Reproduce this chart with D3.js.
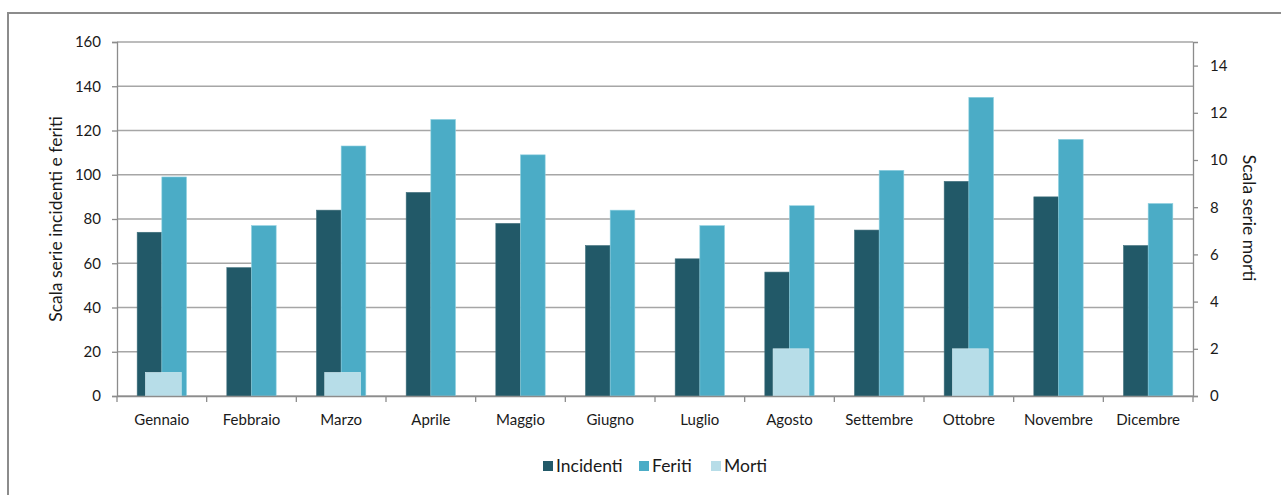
<!DOCTYPE html>
<html><head><meta charset="utf-8">
<script src="https://cdn.jsdelivr.net/npm/d3@7"></script>
<style>body{margin:0;background:#fff}svg{display:block}text{font-family:Lato,"Open Sans",sans-serif;fill:#1a1a1a}</style>
</head><body>
<script>
const months=["Gennaio","Febbraio","Marzo","Aprile","Maggio","Giugno","Luglio","Agosto","Settembre","Ottobre","Novembre","Dicembre"];
const incidenti=[74,58,84,92,78,68,62,56,75,97,90,68];
const feriti=[99,77,113,125,109,84,77,86,102,135,116,87];
const morti=[1,0,1,0,0,0,0,2,0,2,0,0];
const leftTicks=[0,20,40,60,80,100,120,140,160];
const rightTicks=[0,2,4,6,8,10,12,14];
const seriesNames=["Incidenti","Feriti","Morti"];
const colors=["#225968","#4BACC6","#B7DDE8"];

const W=1281,H=495;
const svg=d3.select("body").append("svg").attr("width",W).attr("height",H);
svg.append("rect").attr("x",8).attr("y",13).attr("width",1300).attr("height",520).attr("fill","none").attr("stroke","#8c8c8c").attr("stroke-width",2);

const L=117,R=1193,T=42,B=396;
const x=d3.scaleBand().domain(months).range([L,R]);
const yL=d3.scaleLinear().domain([0,160]).range([B,T]);
const yR=d3.scaleLinear().domain([0,15]).range([B,T]);

// gridlines
svg.append("g").selectAll("line").data(leftTicks).join("line")
 .attr("x1",L).attr("x2",R).attr("y1",d=>yL(d)).attr("y2",d=>yL(d))
 .attr("stroke","#a6a6a6").attr("stroke-width",1.3);

const bw=x.bandwidth();
const gw=bw*0.55, sw=gw/2;
const g=svg.append("g");
months.forEach((m,i)=>{
  const cx=x(m)+bw/2;
  g.append("rect").attr("x",cx-gw/2).attr("y",yL(incidenti[i])).attr("width",sw).attr("height",B-yL(incidenti[i])).attr("fill",colors[0]).attr("stroke","#3e6e7b").attr("stroke-width",0.6);
  g.append("rect").attr("x",cx).attr("y",yL(feriti[i])).attr("width",sw).attr("height",B-yL(feriti[i])).attr("fill",colors[1]).attr("stroke","#8fd0e0").attr("stroke-width",0.6);
});
const mw=bw*0.4;
months.forEach((m,i)=>{
  if(!morti[i])return;
  const cx=x(m)+bw/2+1.5;
  g.append("rect").attr("x",cx-mw/2).attr("y",yR(morti[i])).attr("width",mw).attr("height",B-yR(morti[i])).attr("fill",colors[2]).attr("stroke","#d4ecf2").attr("stroke-width",0.6);
});

// axes
const axL=svg.append("g").attr("transform",`translate(${L},0)`).call(d3.axisLeft(yL).tickValues(leftTicks).tickSize(5).tickPadding(11));
const axR=svg.append("g").attr("transform",`translate(${R},0)`).call(d3.axisRight(yR).tickValues(rightTicks).tickSize(5).tickPadding(12));
const axB=svg.append("g").attr("transform",`translate(0,${B})`).call(d3.axisBottom(x).tickSize(0).tickPadding(18));
[axL,axR,axB].forEach(a=>{a.select(".domain").attr("stroke","#8c8c8c").attr("stroke-width",1.3);a.selectAll(".tick line").attr("stroke","#8c8c8c").attr("stroke-width",1.3);a.selectAll("text").style("font-size","15px").style("font-family","Lato, sans-serif").attr("fill","#1a1a1a");});
// category boundary ticks
svg.append("g").selectAll("line").data(d3.range(months.length+1)).join("line")
 .attr("x1",d=>L+d*bw).attr("x2",d=>L+d*bw).attr("y1",B).attr("y2",B+6).attr("stroke","#8c8c8c").attr("stroke-width",1.3);

// titles
svg.append("text").attr("transform","translate(62,219) rotate(-90)").attr("text-anchor","middle").style("font-size","17.5px").text("Scala serie incidenti e feriti");
svg.append("text").attr("transform","translate(1243,218) rotate(90)").attr("text-anchor","middle").style("font-size","17.5px").text("Scala serie morti");

// legend
const lx=[543,639,711];
seriesNames.forEach((n,i)=>{
  svg.append("rect").attr("x",lx[i]).attr("y",461).attr("width",10).attr("height",10).attr("fill",colors[i]);
  svg.append("text").attr("x",lx[i]+13).attr("y",472).style("font-size","17.5px").text(n);
});
</script>
</body></html>
